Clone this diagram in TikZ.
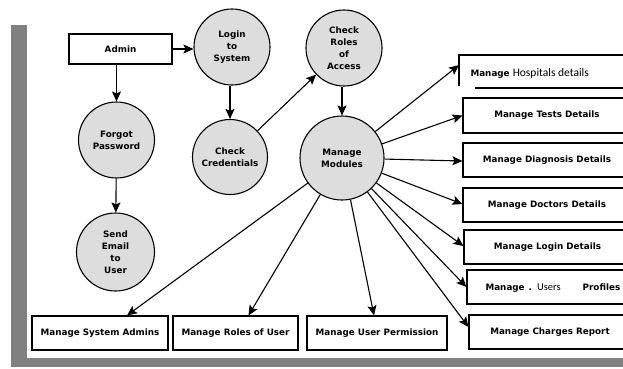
\documentclass[tikz,border=0pt]{standalone}
\usepackage{fontspec}
\setmainfont{DejaVu Sans}
\newfontfamily\carl{Carlito}
\usetikzlibrary{arrows.meta,calc}
\definecolor{framegray}{RGB}{128,128,128}
\definecolor{circfill}{RGB}{221,221,221}
\begin{document}
\begin{tikzpicture}[x=1pt,y=-1pt,
  every node/.style={font=\fontsize{8.8}{12}\selectfont\bfseries},
  proc/.style={circle,draw,line width=1.1pt,fill=circfill,inner sep=0pt,align=center,minimum size=#1},
  proc/.default=76pt,
  boxnode/.style={rectangle,draw,line width=1.1pt,inner sep=0pt,minimum width=#1,minimum height=34pt},
  flow/.style={line width=1.1pt,-{Stealth[length=10pt,width=9pt,inset=2pt]}}]
\useasboundingbox (0,0) rectangle (623,368);
\clip (0,0) rectangle (623,368);
% frame
\fill[framegray] (11,25) rectangle (27,358);
\fill[framegray] (11,358) rectangle (623,367);
% top-left chain
\node[boxnode=103pt,minimum height=30pt] (admin) at (120.5,49) {Admin};
\node[proc] (login) at (232,47) {Login\\to\\System};
\node[proc] (forgot) at (116.5,140) {Forgot\\Password};
\node[proc=78pt] (send) at (115.5,252) {Send\\Email\\to\\User};
\node[proc=75pt] (cc) at (230,157) {Check\\Credentials};
\node[proc] (cr) at (344,48) {Check\\Roles\\of\\Access};
\node[proc=84pt] (mm) at (342,158) {Manage\\Modules};
% bottom boxes
\node[boxnode=136pt] (sysadm) at (100,333) {Manage System Admins};
\node[boxnode=125pt] (roles) at (235.5,333) {Manage Roles of User};
\node[boxnode=140pt] (perm) at (377,333) {Manage User Permission};
% right boxes
\coordinate (hospTL) at (459,55);
\coordinate (hospTR) at (631,55);
\coordinate (hospBL) at (475,88);
\coordinate (hospBR) at (631,88);
\draw[line width=1.1pt] (hospTR) -- (hospTL) -- ++(0,31);
\draw[line width=1.1pt] (hospBL) -- (hospBR);
\node[anchor=west] (hospt) at (467,73) {Manage {\carl\mdseries\fontsize{11.5}{13}\selectfont Hospitals details}};
\coordinate (hospin) at (459,65);
\node[boxnode=168pt,minimum height=35pt] (tests) at (547,115.5) {Manage Tests Details};
\node[boxnode=168pt] (diag) at (547,160) {Manage Diagnosis Details};
\node[boxnode=168pt] (doct) at (547,205) {Manage Doctors Details};
\node[boxnode=167pt] (logind) at (547.5,247) {Manage Login Details};
\node[boxnode=164pt] (users) at (549,287) {};
\node[anchor=west] (userst) at (482,288) {Manage\hspace{4pt}.\hspace{5pt}{\carl\mdseries\fontsize{10.5}{12}\selectfont Users}\hspace{22pt}Profiles};
\node[boxnode=162pt] (charges) at (550,332) {Manage Charges Report};
% connectors
\draw[flow] (admin.east) -- (admin.east -| login.west);
\draw[flow] (forgot.north |- admin.south) -- (forgot.north);
\draw[flow] (forgot) -- (send);
\draw[flow] (cc.north |- login.south) -- (cc.north);
\draw[flow] (cc) -- (cr);
\draw[flow] (mm.north |- cr.south) -- (mm.north);
\draw[flow] (mm) -- (hospin);
\draw[flow] (mm) -- (tests.west);
\draw[flow] (mm) -- ([yshift=-1pt]diag.west);
\draw[flow] (mm) -- ([yshift=1pt]doct.west);
\draw[flow] (mm) -- ([yshift=1pt]logind.west);
\draw[flow] (mm) -- (users.west);
\draw[flow] (mm) -- ([yshift=5pt]charges.west);
\draw[flow] (mm) -- ([xshift=-3pt]perm.north);
\draw[flow] (mm) -- ([xshift=13pt]roles.north);
\draw[flow] (mm) -- ([xshift=27pt]sysadm.north);
\end{tikzpicture}
\end{document}
